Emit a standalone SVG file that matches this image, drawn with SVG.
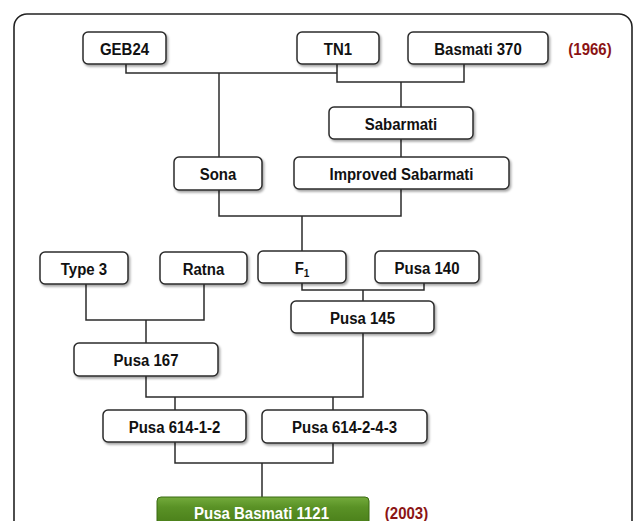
<svg xmlns="http://www.w3.org/2000/svg" width="633" height="521" viewBox="0 0 633 521">
<defs>
<filter id="sh" x="-10%" y="-20%" width="125%" height="150%">
<feDropShadow dx="1.5" dy="2" stdDeviation="1.2" flood-color="#000" flood-opacity="0.35"/>
</filter>
<linearGradient id="grn" x1="0" y1="0" x2="0" y2="1">
<stop offset="0" stop-color="#74ab3c"/>
<stop offset="0.25" stop-color="#5a9226"/>
<stop offset="1" stop-color="#3e7010"/>
</linearGradient>
</defs>
<style>
.box{fill:#fff;stroke:#2b2b2b;stroke-width:1.5;filter:url(#sh)}
.t{font-family:"Liberation Sans",Arial,sans-serif;font-weight:bold;font-size:15px;fill:#111;text-anchor:middle}
.yr{font-family:"Liberation Sans",Arial,sans-serif;font-weight:bold;font-size:15px;fill:#8b1414;text-anchor:middle}
.ln{fill:none;stroke:#2b2b2b;stroke-width:1.5}
</style>
<rect width="633" height="521" fill="#fff"/>
<rect x="14" y="14" width="618" height="540" rx="13" fill="none" stroke="#222" stroke-width="1.6"/>
<g id="connectors" class="ln">
<path d="M126 64V73H337M337 64V82H464V64M401 82V107"/>
<path d="M219 73V157"/>
<path d="M401 139V157"/>
<path d="M219 190V216H401V189M302 216V251"/>
<path d="M302 283V290H424V283M363 290V301"/>
<path d="M86 284V320H204V284M146 320V343"/>
<path d="M146 376V397H363V333"/>
<path d="M175 397V410M333 397V410"/>
<path d="M175 442V463H333V443M262 463V497"/>
</g>
<g id="n-geb24"><rect class="box" x="83" y="32" width="83" height="32" rx="5"/><text class="t" transform="translate(124.5 55) scale(1 1.12)">GEB24</text></g>
<g id="n-tn1"><rect class="box" x="297" y="32" width="82" height="32" rx="5"/><text class="t" transform="translate(338 55) scale(1 1.12)">TN1</text></g>
<g id="n-basmati370"><rect class="box" x="408" y="32" width="140" height="32" rx="5"/><text class="t" transform="translate(478 55) scale(1 1.12)">Basmati 370</text></g>
<text class="yr" transform="translate(590 55) scale(1 1.12)">(1966)</text>
<g id="n-sabarmati"><rect class="box" x="329" y="107" width="144" height="32" rx="5"/><text class="t" transform="translate(401 130) scale(1 1.12)">Sabarmati</text></g>
<g id="n-sona"><rect class="box" x="174" y="157" width="88" height="33" rx="5"/><text class="t" transform="translate(218 180) scale(1 1.12)">Sona</text></g>
<g id="n-improved"><rect class="box" x="294" y="157" width="215" height="32" rx="5"/><text class="t" transform="translate(401.5 180) scale(1 1.12)">Improved Sabarmati</text></g>
<g id="n-type3"><rect class="box" x="40" y="252" width="88" height="32" rx="5"/><text class="t" transform="translate(84 275) scale(1 1.12)">Type 3</text></g>
<g id="n-ratna"><rect class="box" x="160" y="252" width="87" height="32" rx="5"/><text class="t" transform="translate(203.5 275) scale(1 1.12)">Ratna</text></g>
<g id="n-f1"><rect class="box" x="258" y="251" width="88" height="32" rx="5"/><text class="t" transform="translate(302 274) scale(1 1.12)">F<tspan font-size="10" dy="3">1</tspan></text></g>
<g id="n-pusa140"><rect class="box" x="375" y="251" width="104" height="32" rx="5"/><text class="t" transform="translate(427 274) scale(1 1.12)">Pusa 140</text></g>
<g id="n-pusa145"><rect class="box" x="291" y="301" width="143" height="32" rx="5"/><text class="t" transform="translate(362.5 324) scale(1 1.12)">Pusa 145</text></g>
<g id="n-pusa167"><rect class="box" x="74" y="343" width="144" height="33" rx="5"/><text class="t" transform="translate(146 366) scale(1 1.12)">Pusa 167</text></g>
<g id="n-pusa61412"><rect class="box" x="103" y="410" width="143" height="32" rx="5"/><text class="t" transform="translate(174.5 433) scale(1 1.12)">Pusa 614-1-2</text></g>
<g id="n-pusa614243"><rect class="box" x="262" y="410" width="165" height="33" rx="5"/><text class="t" transform="translate(344.5 433) scale(1 1.12)">Pusa 614-2-4-3</text></g>
<g id="n-pb1121"><rect x="157" y="497" width="212" height="40" rx="4" fill="url(#grn)" stroke="#3a6a12" stroke-width="1"/><text class="t" transform="translate(261.5 519) scale(1 1.12)" style="fill:#fff">Pusa Basmati 1121</text></g>
<text class="yr" transform="translate(406.5 519) scale(1 1.12)">(2003)</text>
</svg>
